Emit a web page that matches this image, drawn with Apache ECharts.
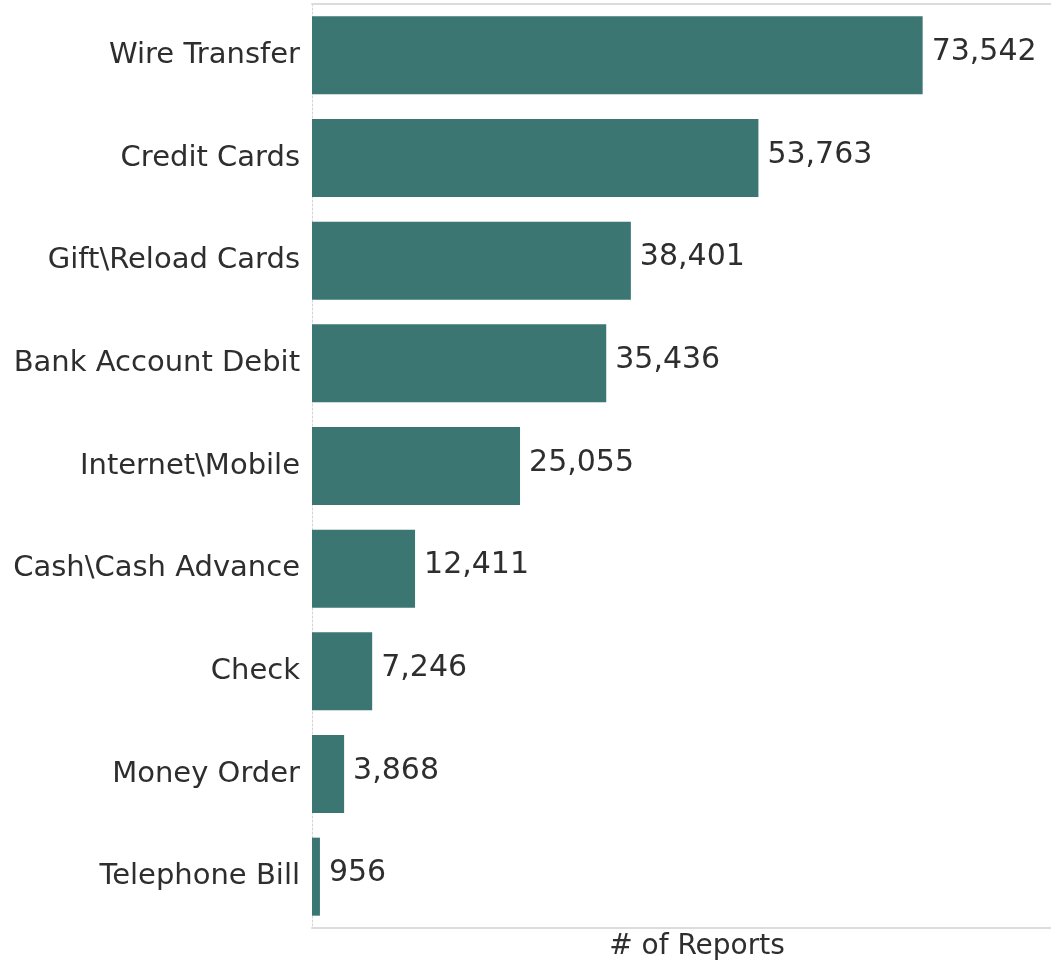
<!DOCTYPE html>
<html>
<head>
<meta charset="utf-8">
<title># of Reports by Payment Method</title>
<script src="https://cdn.jsdelivr.net/npm/echarts@6/dist/echarts.min.js"></script>
<style>
  html, body { margin: 0; padding: 0; background: #ffffff; }
  #chart { width: 1051px; height: 966px; }
</style>
</head>
<body>
<div id="chart"></div>
<script>
// Payment methods, top to bottom
const categories = [
  'Wire Transfer',
  'Credit Cards',
  'Gift\\Reload Cards',
  'Bank Account Debit',
  'Internet\\Mobile',
  'Cash\\Cash Advance',
  'Check',
  'Money Order',
  'Telephone Bill'
];

// Number of reports per payment method
const reports = [73542, 53763, 38401, 35436, 25055, 12411, 7246, 3868, 956];

const axisTitle = '# of Reports';

const FONT = 'DejaVu Sans';
const TEXT = '#2e2e2e';
const BAR = '#3b7672';
const RULE = '#dcdcdc';

const chart = echarts.init(document.getElementById('chart'), null, { renderer: 'canvas' });

chart.setOption({
  animation: false,
  backgroundColor: '#ffffff',
  grid: { left: 312, right: 0, top: 4, bottom: 38, containLabel: false },
  xAxis: [
    {
      type: 'value',
      position: 'bottom',
      min: 0,
      max: 89000,
      axisLine: { show: true, lineStyle: { color: RULE, width: 2 } },
      axisTick: { show: false },
      axisLabel: { show: false },
      splitLine: { show: false },
      name: axisTitle,
      nameLocation: 'middle',
      nameGap: 5,
      nameTextStyle: {
        fontFamily: FONT,
        fontSize: 28,
        color: TEXT,
        verticalAlign: 'top',
        padding: [0, 0, 0, 31]
      }
    },
    {
      type: 'value',
      position: 'top',
      min: 0,
      max: 89000,
      axisLine: { show: true, lineStyle: { color: RULE, width: 2 } },
      axisTick: { show: false },
      axisLabel: { show: false },
      splitLine: { show: false }
    }
  ],
  yAxis: {
    type: 'category',
    data: categories,
    inverse: true,
    axisLine: { show: true, lineStyle: { color: '#d4d4d4', width: 1, type: [2, 2] } },
    axisTick: { show: false },
    axisLabel: {
      margin: 12,
      fontFamily: FONT,
      fontSize: 29,
      color: TEXT,
      padding: [4, 0, 0, 0]
    }
  },
  series: [
    {
      type: 'bar',
      data: reports,
      xAxisIndex: 0,
      barCategoryGap: '24%',
      itemStyle: { color: BAR },
      label: {
        show: true,
        position: 'right',
        distance: 9,
        fontFamily: FONT,
        fontSize: 30,
        color: TEXT,
        offset: [0, -3],
        formatter: p => p.value.toLocaleString('en-US')
      }
    }
  ]
});
</script>
</body>
</html>
